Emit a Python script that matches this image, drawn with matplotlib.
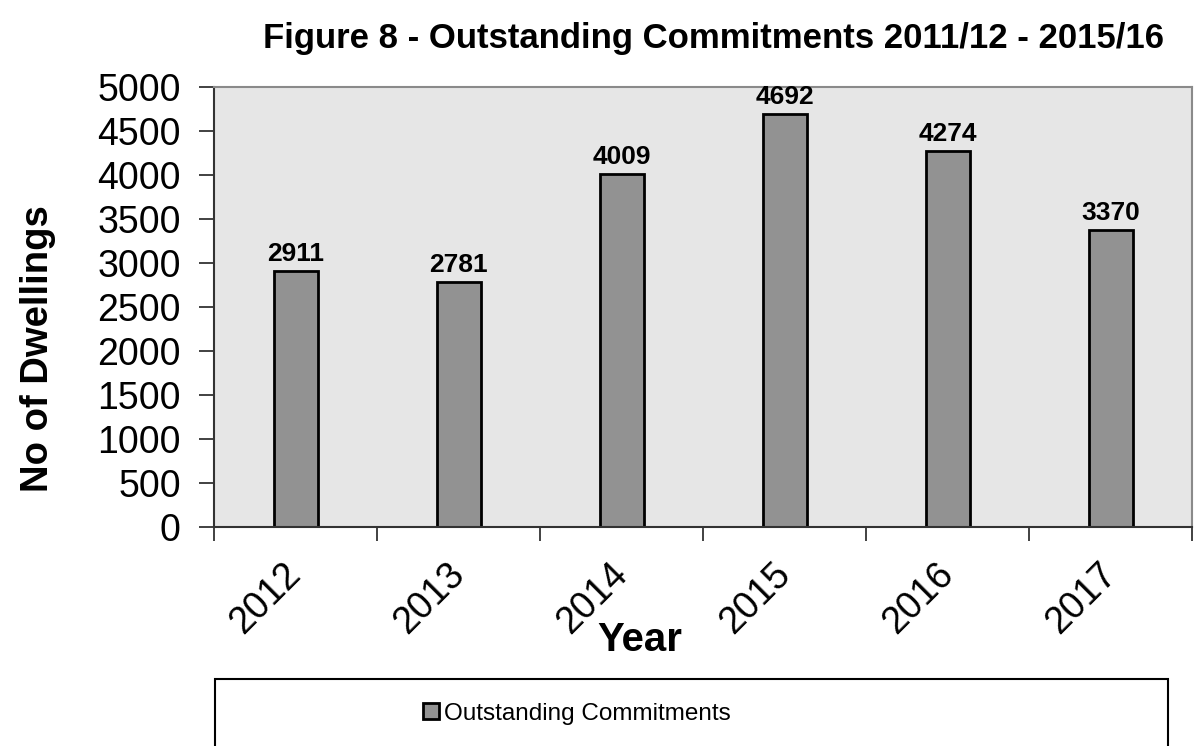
import numpy as np
import matplotlib.pyplot as plt
from matplotlib.patches import Rectangle

plt.rcParams['font.family'] = ['Liberation Sans', 'DejaVu Sans']

years = ['2012', '2013', '2014', '2015', '2016', '2017']
commitments = [2911, 2781, 4009, 4692, 4274, 3370]

title = 'Figure 8 - Outstanding Commitments 2011/12 - 2015/16'
series_name = 'Outstanding Commitments'

fig = plt.figure(figsize=(11.99, 7.46), dpi=100)
ax = fig.add_axes([0.1785, 0.2936, 0.816, 0.5898])
ax.set_facecolor('#e6e6e6')

x = np.arange(len(years))
bars = ax.bar(x, commitments, width=0.27, color='#929292', edgecolor='black',
              linewidth=2, label=series_name, zorder=2)

# value labels on top of the bars
for xi, v in zip(x, commitments):
    ax.text(xi, v + 60, str(v), ha='center', va='bottom', fontsize=19, fontweight='bold')

ax.set_xlim(-0.5, len(years) - 0.5)
ax.set_ylim(0, 5000)
ax.set_yticks(np.arange(0, 5001, 500))
ax.tick_params(axis='y', labelsize=27, length=11, width=1.3, color='#333333', pad=13)

# category labels at centres, ticks on the boundaries
ax.set_xticks(x)
ax.set_xticklabels(years, fontsize=27)
ax.tick_params(axis='x', which='major', length=0)
ax.set_xticks(np.arange(-0.5, len(years)), minor=True)
ax.tick_params(axis='x', which='minor', length=10, width=1.3, color='#333333')
for lbl in ax.get_xticklabels():
    lbl.set_rotation(45)
    lbl.set_rotation_mode('anchor')
    lbl.set_ha('right')
    lbl.set_va('center')
    lbl.set_y(-0.085)

for side in ['top', 'right']:
    ax.spines[side].set_color('#8a8a8a')
    ax.spines[side].set_linewidth(1.5)
for side in ['left', 'bottom']:
    ax.spines[side].set_color('#333333')
    ax.spines[side].set_linewidth(1.5)

ax.set_ylabel('No of Dwellings', fontsize=27.5, fontweight='bold')
ax.yaxis.set_label_coords(-0.162, 0.405)
fig.text(0.534, 0.142, 'Year', ha='center', va='center', fontsize=29, fontweight='bold')
fig.text(0.595, 0.949, title, ha='center', va='center', fontsize=25, fontweight='bold')

# legend box along the bottom
fig.patches.append(Rectangle((0.1795, -0.01), 0.795, 0.1, transform=fig.transFigure,
                             facecolor='white', edgecolor='black', linewidth=1.5, zorder=0))
fig.legend(handles=[bars], labels=[series_name], loc='center', bbox_to_anchor=(0.481, 0.043),
           frameon=False, fontsize=17.5, handlelength=0.65, handleheight=0.65, handletextpad=0.2)

fig.savefig('out.png', dpi=100)
